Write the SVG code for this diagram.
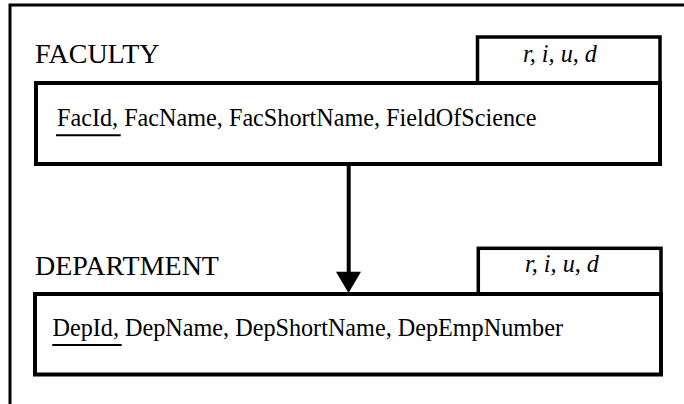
<svg xmlns="http://www.w3.org/2000/svg" width="684" height="404" viewBox="0 0 684 404">
<style>
  .title { font-family: "Liberation Serif", "Times New Roman", serif; font-size: 28px; fill: #000; }
  .attr { font-family: "Liberation Serif", "Times New Roman", serif; font-size: 24.2px; fill: #000; }
  .ops { font-family: "Liberation Serif", "Times New Roman", serif; font-size: 24.2px; font-style: italic; fill: #000; }
  .box { fill: #fff; stroke: #000; stroke-width: 4; }
  .opsbox { fill: #fff; stroke: #000; stroke-width: 3.5; }
  .frame { fill: none; stroke: #000; stroke-width: 3; }
  .ul { stroke: #000; stroke-width: 2; }
  .conn { stroke: #000; stroke-width: 4; fill: none; }
</style>
<rect x="0" y="0" width="684" height="404" fill="#fff"/>
<path class="frame" d="M10,404 V5 H684"/>
<g id="faculty">
  <text class="title" x="35" y="62.7">FACULTY</text>
  <rect class="opsbox" x="477.5" y="37" width="182.5" height="46"/>
  <text class="ops" x="523" y="61.7">r, i, u, d</text>
  <rect class="box" x="36" y="83" width="624" height="81"/>
  <text class="attr" x="57" y="125.7">FacId, FacName, FacShortName, FieldOfScience</text>
  <line class="ul" x1="56" y1="135.3" x2="120.7" y2="135.3"/>
</g>
<g id="department">
  <text class="title" x="35" y="275">DEPARTMENT</text>
  <rect class="opsbox" x="478.3" y="248.3" width="182.7" height="45.7"/>
  <text class="ops" x="525" y="271.7">r, i, u, d</text>
  <rect class="box" x="35" y="294" width="626" height="80.5"/>
  <text class="attr" x="52.5" y="335.7">DepId, DepName, DepShortName, DepEmpNumber</text>
  <line class="ul" x1="52.3" y1="345" x2="121.7" y2="345"/>
</g>
<g id="connectors">
  <line class="conn" x1="348.7" y1="164" x2="348.7" y2="274"/>
  <polygon points="336,271.7 361,271.7 348.5,293" fill="#000"/>
</g>
</svg>
